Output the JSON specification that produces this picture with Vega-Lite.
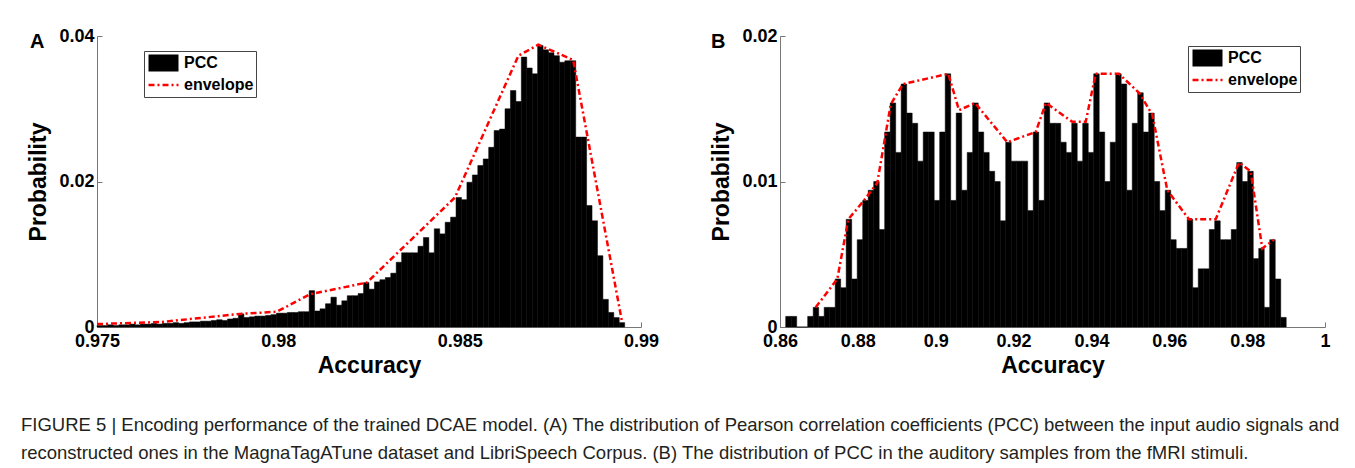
{
  "$schema": "https://vega.github.io/schema/vega-lite/v6.json",
  "padding": {"left": 20, "top": 27, "right": 5, "bottom": 0},
  "background": "white",
  "config": {
    "view": {"stroke": null},
    "font": "Liberation Sans",
    "axis": {
      "domainColor": "#777777", "tickColor": "#777777", "tickSize": -5, "labelPadding": 8,
      "labelFont": "Liberation Sans", "labelFontSize": 18, "labelFontWeight": "bold", "labelColor": "black",
      "titleFont": "Liberation Sans", "titleFontSize": 23, "titleFontWeight": "bold", "titleColor": "black",
      "grid": false, "labelFlush": false, "labelOverlap": false, "labelBound": false
    },
    "legend": {
      "title": null, "strokeColor": "#444444", "fillColor": "white", "padding": 2,
      "labelFont": "Liberation Sans", "labelFontSize": 16, "labelFontWeight": "bold", "labelColor": "black",
      "symbolSize": 400, "symbolOffset": -1, "labelOffset": 2, "rowPadding": 2, "clipHeight": 20
    },
    "title": {"font": "Liberation Sans", "fontWeight": "bold", "color": "black"}
  },
  "title": {
    "text": [
      "FIGURE 5 | Encoding performance of the trained DCAE model. (A) The distribution of Pearson correlation coefficients (PCC) between the input audio signals and",
      "reconstructed ones in the MagnaTagATune dataset and LibriSpeech Corpus. (B) The distribution of PCC in the auditory samples from the fMRI stimuli."
    ],
    "orient": "bottom", "anchor": "start", "frame": "bounds",
    "font": "Liberation Sans", "fontSize": 18.5, "fontWeight": "normal", "color": "#231f20",
    "lineHeight": 28, "offset": 39, "dx": -7
  },
  "datasets": {
    "histA": [
      {"x0": 0.97500, "x1": 0.97515, "p": 0.0002},
      {"x0": 0.97515, "x1": 0.97530, "p": 0.0002},
      {"x0": 0.97530, "x1": 0.97545, "p": 0.0003},
      {"x0": 0.97545, "x1": 0.97560, "p": 0.0002},
      {"x0": 0.97560, "x1": 0.97575, "p": 0.0003},
      {"x0": 0.97575, "x1": 0.97590, "p": 0.0003},
      {"x0": 0.97590, "x1": 0.97605, "p": 0.0004},
      {"x0": 0.97605, "x1": 0.97620, "p": 0.0003},
      {"x0": 0.97620, "x1": 0.97635, "p": 0.0004},
      {"x0": 0.97635, "x1": 0.97650, "p": 0.0004},
      {"x0": 0.97650, "x1": 0.97665, "p": 0.0005},
      {"x0": 0.97665, "x1": 0.97680, "p": 0.0004},
      {"x0": 0.97680, "x1": 0.97695, "p": 0.0005},
      {"x0": 0.97695, "x1": 0.97710, "p": 0.0005},
      {"x0": 0.97710, "x1": 0.97725, "p": 0.0006},
      {"x0": 0.97725, "x1": 0.97740, "p": 0.0005},
      {"x0": 0.97740, "x1": 0.97755, "p": 0.0006},
      {"x0": 0.97755, "x1": 0.97770, "p": 0.0007},
      {"x0": 0.97770, "x1": 0.97785, "p": 0.0007},
      {"x0": 0.97785, "x1": 0.97800, "p": 0.0008},
      {"x0": 0.97800, "x1": 0.97815, "p": 0.0008},
      {"x0": 0.97815, "x1": 0.97830, "p": 0.0009},
      {"x0": 0.97830, "x1": 0.97845, "p": 0.0010},
      {"x0": 0.97845, "x1": 0.97860, "p": 0.0009},
      {"x0": 0.97860, "x1": 0.97875, "p": 0.0011},
      {"x0": 0.97875, "x1": 0.97890, "p": 0.0012},
      {"x0": 0.97890, "x1": 0.97905, "p": 0.0018},
      {"x0": 0.97905, "x1": 0.97920, "p": 0.0013},
      {"x0": 0.97920, "x1": 0.97935, "p": 0.0014},
      {"x0": 0.97935, "x1": 0.97950, "p": 0.0015},
      {"x0": 0.97950, "x1": 0.97965, "p": 0.0015},
      {"x0": 0.97965, "x1": 0.97980, "p": 0.0016},
      {"x0": 0.97980, "x1": 0.97995, "p": 0.0017},
      {"x0": 0.97995, "x1": 0.98010, "p": 0.0019},
      {"x0": 0.98010, "x1": 0.98025, "p": 0.0019},
      {"x0": 0.98025, "x1": 0.98040, "p": 0.0020},
      {"x0": 0.98040, "x1": 0.98055, "p": 0.0020},
      {"x0": 0.98055, "x1": 0.98070, "p": 0.0021},
      {"x0": 0.98070, "x1": 0.98085, "p": 0.0021},
      {"x0": 0.98085, "x1": 0.98100, "p": 0.0050},
      {"x0": 0.98100, "x1": 0.98115, "p": 0.0022},
      {"x0": 0.98115, "x1": 0.98130, "p": 0.0025},
      {"x0": 0.98130, "x1": 0.98145, "p": 0.0032},
      {"x0": 0.98145, "x1": 0.98160, "p": 0.0041},
      {"x0": 0.98160, "x1": 0.98175, "p": 0.0030},
      {"x0": 0.98175, "x1": 0.98190, "p": 0.0036},
      {"x0": 0.98190, "x1": 0.98205, "p": 0.0043},
      {"x0": 0.98205, "x1": 0.98220, "p": 0.0043},
      {"x0": 0.98220, "x1": 0.98235, "p": 0.0046},
      {"x0": 0.98235, "x1": 0.98250, "p": 0.0061},
      {"x0": 0.98250, "x1": 0.98265, "p": 0.0052},
      {"x0": 0.98265, "x1": 0.98280, "p": 0.0062},
      {"x0": 0.98280, "x1": 0.98295, "p": 0.0065},
      {"x0": 0.98295, "x1": 0.98310, "p": 0.0068},
      {"x0": 0.98310, "x1": 0.98325, "p": 0.0074},
      {"x0": 0.98325, "x1": 0.98340, "p": 0.0089},
      {"x0": 0.98340, "x1": 0.98355, "p": 0.0102},
      {"x0": 0.98355, "x1": 0.98370, "p": 0.0102},
      {"x0": 0.98370, "x1": 0.98385, "p": 0.0102},
      {"x0": 0.98385, "x1": 0.98400, "p": 0.0111},
      {"x0": 0.98400, "x1": 0.98415, "p": 0.0123},
      {"x0": 0.98415, "x1": 0.98430, "p": 0.0102},
      {"x0": 0.98430, "x1": 0.98445, "p": 0.0135},
      {"x0": 0.98445, "x1": 0.98460, "p": 0.0128},
      {"x0": 0.98460, "x1": 0.98475, "p": 0.0144},
      {"x0": 0.98475, "x1": 0.98490, "p": 0.0151},
      {"x0": 0.98490, "x1": 0.98505, "p": 0.0178},
      {"x0": 0.98505, "x1": 0.98520, "p": 0.0175},
      {"x0": 0.98520, "x1": 0.98535, "p": 0.0199},
      {"x0": 0.98535, "x1": 0.98550, "p": 0.0209},
      {"x0": 0.98550, "x1": 0.98565, "p": 0.0222},
      {"x0": 0.98565, "x1": 0.98580, "p": 0.0231},
      {"x0": 0.98580, "x1": 0.98595, "p": 0.0247},
      {"x0": 0.98595, "x1": 0.98610, "p": 0.0270},
      {"x0": 0.98610, "x1": 0.98625, "p": 0.0272},
      {"x0": 0.98625, "x1": 0.98640, "p": 0.0300},
      {"x0": 0.98640, "x1": 0.98655, "p": 0.0325},
      {"x0": 0.98655, "x1": 0.98670, "p": 0.0310},
      {"x0": 0.98670, "x1": 0.98685, "p": 0.0371},
      {"x0": 0.98685, "x1": 0.98700, "p": 0.0356},
      {"x0": 0.98700, "x1": 0.98715, "p": 0.0348},
      {"x0": 0.98715, "x1": 0.98730, "p": 0.0387},
      {"x0": 0.98730, "x1": 0.98745, "p": 0.0381},
      {"x0": 0.98745, "x1": 0.98760, "p": 0.0377},
      {"x0": 0.98760, "x1": 0.98775, "p": 0.0373},
      {"x0": 0.98775, "x1": 0.98790, "p": 0.0364},
      {"x0": 0.98790, "x1": 0.98805, "p": 0.0366},
      {"x0": 0.98805, "x1": 0.98820, "p": 0.0366},
      {"x0": 0.98820, "x1": 0.98835, "p": 0.0261},
      {"x0": 0.98835, "x1": 0.98850, "p": 0.0261},
      {"x0": 0.98850, "x1": 0.98865, "p": 0.0167},
      {"x0": 0.98865, "x1": 0.98880, "p": 0.0146},
      {"x0": 0.98880, "x1": 0.98895, "p": 0.0098},
      {"x0": 0.98895, "x1": 0.98910, "p": 0.0038},
      {"x0": 0.98910, "x1": 0.98925, "p": 0.0020},
      {"x0": 0.98925, "x1": 0.98940, "p": 0.0013},
      {"x0": 0.98940, "x1": 0.98955, "p": 0.0006}
    ],
    "envA": [
      {"x": 0.97500, "p": 0.0004},
      {"x": 0.97680, "p": 0.0007},
      {"x": 0.97894, "p": 0.0018},
      {"x": 0.97996, "p": 0.0021},
      {"x": 0.98087, "p": 0.0045},
      {"x": 0.98244, "p": 0.0061},
      {"x": 0.98335, "p": 0.0105},
      {"x": 0.98487, "p": 0.0178},
      {"x": 0.98662, "p": 0.0373},
      {"x": 0.98717, "p": 0.0388},
      {"x": 0.98813, "p": 0.0367},
      {"x": 0.98947, "p": 0.0009}
    ],
    "histB": [
      {"x0": 0.86146, "x1": 0.86287, "p": 0.00073},
      {"x0": 0.86287, "x1": 0.86429, "p": 0.00073},
      {"x0": 0.86429, "x1": 0.86570, "p": 0},
      {"x0": 0.86570, "x1": 0.86711, "p": 0},
      {"x0": 0.86711, "x1": 0.86853, "p": 0.00073},
      {"x0": 0.86853, "x1": 0.86994, "p": 0.00135},
      {"x0": 0.86994, "x1": 0.87135, "p": 0.00073},
      {"x0": 0.87135, "x1": 0.87276, "p": 0.00135},
      {"x0": 0.87276, "x1": 0.87418, "p": 0.00135},
      {"x0": 0.87418, "x1": 0.87559, "p": 0.0033},
      {"x0": 0.87559, "x1": 0.87700, "p": 0.0027},
      {"x0": 0.87700, "x1": 0.87842, "p": 0.0074},
      {"x0": 0.87842, "x1": 0.87983, "p": 0.0033},
      {"x0": 0.87983, "x1": 0.88124, "p": 0.0060},
      {"x0": 0.88124, "x1": 0.88266, "p": 0.0087},
      {"x0": 0.88266, "x1": 0.88407, "p": 0.0094},
      {"x0": 0.88407, "x1": 0.88548, "p": 0.0100},
      {"x0": 0.88548, "x1": 0.88689, "p": 0.0067},
      {"x0": 0.88689, "x1": 0.88831, "p": 0.0134},
      {"x0": 0.88831, "x1": 0.88972, "p": 0.0154},
      {"x0": 0.88972, "x1": 0.89113, "p": 0.0120},
      {"x0": 0.89113, "x1": 0.89255, "p": 0.0167},
      {"x0": 0.89255, "x1": 0.89396, "p": 0.0147},
      {"x0": 0.89396, "x1": 0.89537, "p": 0.0140},
      {"x0": 0.89537, "x1": 0.89679, "p": 0.0114},
      {"x0": 0.89679, "x1": 0.89820, "p": 0.0134},
      {"x0": 0.89820, "x1": 0.89961, "p": 0.0134},
      {"x0": 0.89961, "x1": 0.90102, "p": 0.0087},
      {"x0": 0.90102, "x1": 0.90244, "p": 0.0134},
      {"x0": 0.90244, "x1": 0.90385, "p": 0.0174},
      {"x0": 0.90385, "x1": 0.90526, "p": 0.0087},
      {"x0": 0.90526, "x1": 0.90668, "p": 0.0147},
      {"x0": 0.90668, "x1": 0.90809, "p": 0.0094},
      {"x0": 0.90809, "x1": 0.90950, "p": 0.0120},
      {"x0": 0.90950, "x1": 0.91092, "p": 0.0154},
      {"x0": 0.91092, "x1": 0.91233, "p": 0.0134},
      {"x0": 0.91233, "x1": 0.91374, "p": 0.0120},
      {"x0": 0.91374, "x1": 0.91515, "p": 0.0107},
      {"x0": 0.91515, "x1": 0.91657, "p": 0.0100},
      {"x0": 0.91657, "x1": 0.91798, "p": 0.0073},
      {"x0": 0.91798, "x1": 0.91939, "p": 0.0127},
      {"x0": 0.91939, "x1": 0.92081, "p": 0.0114},
      {"x0": 0.92081, "x1": 0.92222, "p": 0.0114},
      {"x0": 0.92222, "x1": 0.92363, "p": 0.0114},
      {"x0": 0.92363, "x1": 0.92505, "p": 0.0080},
      {"x0": 0.92505, "x1": 0.92646, "p": 0.0134},
      {"x0": 0.92646, "x1": 0.92787, "p": 0.0087},
      {"x0": 0.92787, "x1": 0.92928, "p": 0.0154},
      {"x0": 0.92928, "x1": 0.93070, "p": 0.0140},
      {"x0": 0.93070, "x1": 0.93211, "p": 0.0140},
      {"x0": 0.93211, "x1": 0.93352, "p": 0.0127},
      {"x0": 0.93352, "x1": 0.93494, "p": 0.0120},
      {"x0": 0.93494, "x1": 0.93635, "p": 0.0140},
      {"x0": 0.93635, "x1": 0.93776, "p": 0.0114},
      {"x0": 0.93776, "x1": 0.93918, "p": 0.0140},
      {"x0": 0.93918, "x1": 0.94059, "p": 0.0120},
      {"x0": 0.94059, "x1": 0.94200, "p": 0.0174},
      {"x0": 0.94200, "x1": 0.94341, "p": 0.0134},
      {"x0": 0.94341, "x1": 0.94483, "p": 0.0100},
      {"x0": 0.94483, "x1": 0.94624, "p": 0.0127},
      {"x0": 0.94624, "x1": 0.94765, "p": 0.0174},
      {"x0": 0.94765, "x1": 0.94907, "p": 0.0167},
      {"x0": 0.94907, "x1": 0.95048, "p": 0.0094},
      {"x0": 0.95048, "x1": 0.95189, "p": 0.0140},
      {"x0": 0.95189, "x1": 0.95331, "p": 0.0161},
      {"x0": 0.95331, "x1": 0.95472, "p": 0.0134},
      {"x0": 0.95472, "x1": 0.95613, "p": 0.0147},
      {"x0": 0.95613, "x1": 0.95754, "p": 0.0100},
      {"x0": 0.95754, "x1": 0.95896, "p": 0.0080},
      {"x0": 0.95896, "x1": 0.96037, "p": 0.0094},
      {"x0": 0.96037, "x1": 0.96178, "p": 0.0060},
      {"x0": 0.96178, "x1": 0.96320, "p": 0.0054},
      {"x0": 0.96320, "x1": 0.96461, "p": 0.0054},
      {"x0": 0.96461, "x1": 0.96602, "p": 0.0074},
      {"x0": 0.96602, "x1": 0.96744, "p": 0.0027},
      {"x0": 0.96744, "x1": 0.96885, "p": 0.0040},
      {"x0": 0.96885, "x1": 0.97026, "p": 0.0040},
      {"x0": 0.97026, "x1": 0.97167, "p": 0.0067},
      {"x0": 0.97167, "x1": 0.97309, "p": 0.0073},
      {"x0": 0.97309, "x1": 0.97450, "p": 0.0060},
      {"x0": 0.97450, "x1": 0.97591, "p": 0.0060},
      {"x0": 0.97591, "x1": 0.97733, "p": 0.0067},
      {"x0": 0.97733, "x1": 0.97874, "p": 0.0113},
      {"x0": 0.97874, "x1": 0.98015, "p": 0.0100},
      {"x0": 0.98015, "x1": 0.98157, "p": 0.0107},
      {"x0": 0.98157, "x1": 0.98298, "p": 0.0047},
      {"x0": 0.98298, "x1": 0.98439, "p": 0.0054},
      {"x0": 0.98439, "x1": 0.98580, "p": 0.00135},
      {"x0": 0.98580, "x1": 0.98722, "p": 0.0060},
      {"x0": 0.98722, "x1": 0.98863, "p": 0.0033},
      {"x0": 0.98863, "x1": 0.99004, "p": 0.00066}
    ],
    "envB": [
      {"x": 0.86917, "p": 0.00135},
      {"x": 0.87472, "p": 0.0033},
      {"x": 0.87754, "p": 0.0074},
      {"x": 0.88158, "p": 0.0087},
      {"x": 0.88499, "p": 0.0099},
      {"x": 0.88844, "p": 0.0153},
      {"x": 0.89160, "p": 0.0167},
      {"x": 0.90323, "p": 0.0174},
      {"x": 0.90598, "p": 0.0149},
      {"x": 0.91009, "p": 0.0154},
      {"x": 0.91839, "p": 0.0127},
      {"x": 0.92568, "p": 0.0134},
      {"x": 0.92833, "p": 0.0154},
      {"x": 0.93508, "p": 0.0141},
      {"x": 0.93853, "p": 0.0141},
      {"x": 0.94109, "p": 0.0174},
      {"x": 0.94708, "p": 0.0174},
      {"x": 0.95222, "p": 0.0161},
      {"x": 0.95563, "p": 0.0146},
      {"x": 0.95949, "p": 0.0094},
      {"x": 0.96506, "p": 0.0074},
      {"x": 0.97192, "p": 0.0074},
      {"x": 0.97790, "p": 0.0113},
      {"x": 0.98091, "p": 0.0107},
      {"x": 0.98389, "p": 0.0054},
      {"x": 0.98690, "p": 0.0060}
    ]
  },
  "spacing": 51,
  "resolve": {
    "scale": {"color": "independent", "strokeDash": "independent", "strokeWidth": "independent"},
    "legend": {"color": "independent", "strokeDash": "independent", "strokeWidth": "independent"}
  },
  "hconcat": [
    {
      "width": 544, "height": 291,
      "title": {"text": "A", "anchor": "start", "frame": "bounds", "fontSize": 20, "offset": 4, "dy": 29, "dx": 2},
      "layer": [
        {
          "data": {"name": "histA"},
          "mark": {"type": "rect", "color": "black", "stroke": "black", "strokeWidth": 0.5},
          "encoding": {
            "x": {"field": "x0", "type": "quantitative", "scale": {"domain": [0.975, 0.99], "nice": false, "zero": false},
                  "axis": {"title": "Accuracy", "values": [0.975, 0.98, 0.985, 0.99], "format": "~g", "titlePadding": 4, "labelPadding": 10}},
            "x2": {"field": "x1"},
            "y": {"field": "p", "type": "quantitative", "scale": {"domain": [0, 0.04], "nice": false},
                  "axis": {"title": "Probability", "values": [0, 0.02, 0.04], "format": "~g", "titlePadding": 8}},
            "y2": {"datum": 0}
          }
        },
        {
          "data": {"name": "envA"},
          "mark": {"type": "line"},
          "encoding": {
            "x": {"field": "x", "type": "quantitative"},
            "y": {"field": "p", "type": "quantitative"},
            "color": {"datum": "envelope", "type": "nominal",
              "scale": {"domain": ["PCC", "envelope"], "range": ["black", "red"]},
              "legend": {"orient": "none", "legendX": 47, "legendY": 15, "symbolType": "M-1.5,0H1.5"}},
            "strokeDash": {"datum": "envelope", "type": "nominal",
              "scale": {"domain": ["PCC", "envelope"], "range": [[1, 0], [6, 3, 2, 3]]},
              "legend": {"orient": "none", "legendX": 47, "legendY": 15, "symbolType": "M-1.5,0H1.5"}},
            "strokeWidth": {"datum": "envelope", "type": "nominal",
              "scale": {"type": "point", "padding": 0, "domain": ["PCC", "envelope"], "range": [17, 2.5]},
              "legend": {"orient": "none", "legendX": 47, "legendY": 15, "symbolType": "M-1.5,0H1.5"}}
          }
        }
      ]
    },
    {
      "width": 545, "height": 291,
      "title": {"text": "B", "anchor": "start", "frame": "bounds", "fontSize": 20, "offset": 4, "dy": 29, "dx": 0},
      "layer": [
        {
          "data": {"name": "histB"},
          "mark": {"type": "rect", "color": "black", "stroke": "black", "strokeWidth": 0.5},
          "encoding": {
            "x": {"field": "x0", "type": "quantitative", "scale": {"domain": [0.86, 1], "nice": false, "zero": false},
                  "axis": {"title": "Accuracy", "values": [0.86, 0.88, 0.9, 0.92, 0.94, 0.96, 0.98, 1], "format": "~g", "titlePadding": 4, "labelPadding": 10}},
            "x2": {"field": "x1"},
            "y": {"field": "p", "type": "quantitative", "scale": {"domain": [0, 0.02], "nice": false},
                  "axis": {"title": "Probability", "values": [0, 0.01, 0.02], "format": "~g", "titlePadding": 8}},
            "y2": {"datum": 0}
          }
        },
        {
          "data": {"name": "envB"},
          "mark": {"type": "line"},
          "encoding": {
            "x": {"field": "x", "type": "quantitative"},
            "y": {"field": "p", "type": "quantitative"},
            "color": {"datum": "envelope", "type": "nominal",
              "scale": {"domain": ["PCC", "envelope"], "range": ["black", "red"]},
              "legend": {"orient": "none", "legendX": 408, "legendY": 10, "symbolType": "M-1.5,0H1.5"}},
            "strokeDash": {"datum": "envelope", "type": "nominal",
              "scale": {"domain": ["PCC", "envelope"], "range": [[1, 0], [6, 3, 2, 3]]},
              "legend": {"orient": "none", "legendX": 408, "legendY": 10, "symbolType": "M-1.5,0H1.5"}},
            "strokeWidth": {"datum": "envelope", "type": "nominal",
              "scale": {"type": "point", "padding": 0, "domain": ["PCC", "envelope"], "range": [17, 2.5]},
              "legend": {"orient": "none", "legendX": 408, "legendY": 10, "symbolType": "M-1.5,0H1.5"}}
          }
        }
      ]
    }
  ]
}
